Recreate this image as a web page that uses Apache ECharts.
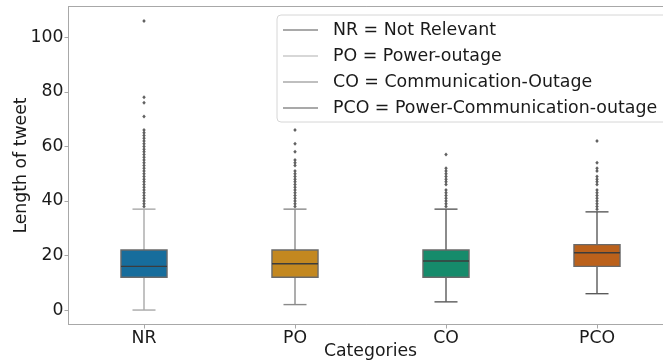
<!DOCTYPE html>
<html>
<head>
<meta charset="utf-8">
<script src="https://cdn.jsdelivr.net/npm/echarts@6/dist/echarts.min.js"></script>
<style>html,body{margin:0;padding:0;background:#fff}#c{width:663px;height:364px}</style>
</head>
<body>
<div id="c"></div>
<script>
const categories = ['NR', 'PO', 'CO', 'PCO'];
// [min whisker, Q1, median, Q3, max whisker]
const boxNR  = [0, 12, 16, 22, 37];
const boxPO  = [2, 12, 17, 22, 37];
const boxCO  = [3, 12, 18, 22, 37];
const boxPCO = [6, 16, 21, 24, 36];
const outNR  = [38,39,40,41,42,43,44,45,46,47,48,49,50,51,52,53,54,55,56,57,58,59,60,61,62,63,64,65,66,71,76,78,106];
const outPO  = [38,39,40,41,42,43,44,45,46,47,48,49,50,51,53,54,55,58,61,66];
const outCO  = [38,39,40,41,42,43,44,46,47,48,49,50,51,52,57];
const outPCO = [37,38,39,40,41,42,43,44,46,47,48,49,51,52,54,62];
const yTicks = [0, 20, 40, 60, 80, 100];
const legendLabels = ['NR = Not Relevant', 'PO = Power-outage', 'CO = Communication-Outage', 'PCO = Power-Communication-outage'];

const boxColors = ['#176d9c', '#c38820', '#168b6b', '#bb611b'];
const whiskerColors = ['#a8a8a8', '#8a8a8a', '#5a5a5a', '#5a5a5a'];
const legendLineColors = ['#555555', '#b0b0b0', '#808080', '#555555'];

const boxes = [boxNR, boxPO, boxCO, boxPCO];
const outs = [outNR, outPO, outCO, outPCO];
const boxData = boxes.map((b, i) => [i].concat(b));
const outData = [];
outs.forEach((arr, i) => arr.forEach(v => outData.push([i, v])));

const FONT = 'DejaVu Sans';
const FS = 17.3;
const SPINE = '#a8a8a8';
const chart = echarts.init(document.getElementById('c'), null, {renderer: 'canvas'});

function renderBox(params, api) {
  const i = api.value(0);
  const vmin = api.value(1), q1 = api.value(2), med = api.value(3), q3 = api.value(4), vmax = api.value(5);
  const band = api.size([1, 0])[0];
  const cx = api.coord([i, 0])[0];
  const bw = band * 0.305;
  const cw = bw * 0.5;
  const yMin = api.coord([i, vmin])[1];
  const yQ1 = api.coord([i, q1])[1];
  const yMed = api.coord([i, med])[1];
  const yQ3 = api.coord([i, q3])[1];
  const yMax = api.coord([i, vmax])[1];
  const wc = whiskerColors[i];
  const lw = 1.4;
  return {
    type: 'group',
    children: [
      {type: 'line', shape: {x1: cx, y1: yQ3, x2: cx, y2: yMax}, style: {stroke: wc, lineWidth: lw}},
      {type: 'line', shape: {x1: cx, y1: yQ1, x2: cx, y2: yMin}, style: {stroke: wc, lineWidth: lw}},
      {type: 'line', shape: {x1: cx - cw / 2, y1: yMax, x2: cx + cw / 2, y2: yMax}, style: {stroke: wc, lineWidth: lw}},
      {type: 'line', shape: {x1: cx - cw / 2, y1: yMin, x2: cx + cw / 2, y2: yMin}, style: {stroke: wc, lineWidth: lw}},
      {type: 'rect', shape: {x: cx - bw / 2, y: yQ3, width: bw, height: yQ1 - yQ3}, style: {fill: boxColors[i], stroke: '#6a6a6a', lineWidth: lw}},
      {type: 'line', shape: {x1: cx - bw / 2, y1: yMed, x2: cx + bw / 2, y2: yMed}, style: {stroke: '#3c3c3c', lineWidth: lw}}
    ]
  };
}

const legendChildren = [
  {type: 'rect', shape: {x: 277, y: 15, width: 420, height: 107, r: 4}, style: {fill: 'rgba(255,255,255,0.85)', stroke: '#d6d6d6', lineWidth: 1}}
];
const rowsY = [30, 56, 82, 108];
legendLabels.forEach((t, k) => {
  legendChildren.push({type: 'line', shape: {x1: 283, y1: rowsY[k], x2: 318, y2: rowsY[k]}, style: {stroke: legendLineColors[k], lineWidth: 1.2}});
  legendChildren.push({type: 'text', x: 333, y: rowsY[k], style: {text: t, fill: '#1a1a1a', font: '17.4px "DejaVu Sans"', verticalAlign: 'middle', align: 'left'}});
});

chart.setOption({
  animation: false,
  grid: {left: 68.5, top: 6.5, right: -9.5, bottom: 39.5, outerBoundsMode: 'none', containLabel: false, show: false},
  xAxis: [{
    type: 'category',
    data: categories,
    boundaryGap: true,
    name: 'Categories',
    nameLocation: 'middle',
    nameGap: 19,
    nameMoveOverlap: false,
    nameTextStyle: {fontFamily: FONT, fontSize: FS, color: '#1a1a1a'},
    axisLine: {onZero: false, lineStyle: {color: SPINE}},
    axisTick: {show: true, alignWithLabel: true, length: 4, lineStyle: {color: SPINE}},
    axisLabel: {fontFamily: FONT, fontSize: FS, color: '#1a1a1a', margin: 6},
    splitLine: {show: false}
  }, {
    type: 'category',
    data: categories,
    position: 'top',
    axisLine: {show: true, onZero: false, lineStyle: {color: SPINE}},
    axisTick: {show: false},
    axisLabel: {show: false},
    splitLine: {show: false}
  }],
  yAxis: {
    type: 'value',
    min: -5.3,
    max: 111.3,
    name: 'Length of tweet',
    nameLocation: 'middle',
    nameGap: 38,
    nameMoveOverlap: false,
    nameRotate: 90,
    nameTextStyle: {fontFamily: FONT, fontSize: FS, color: '#1a1a1a'},
    axisLine: {show: true, onZero: false, lineStyle: {color: SPINE}},
    axisTick: {show: true, length: 4, customValues: yTicks, lineStyle: {color: SPINE}},
    axisLabel: {fontFamily: FONT, fontSize: FS, color: '#1a1a1a', margin: 5, customValues: yTicks},
    splitLine: {show: false}
  },
  series: [
    {
      type: 'custom',
      renderItem: renderBox,
      encode: {x: 0, y: [1, 2, 3, 4, 5]},
      data: boxData,
      clip: false,
      z: 2
    },
    {
      type: 'scatter',
      data: outData,
      symbol: 'diamond',
      symbolSize: [3.5, 4],
      itemStyle: {color: '#3a3a3a'},
      z: 3
    }
  ],
  graphic: {elements: [{type: 'group', z: 100, children: legendChildren}]}
});
</script>
</body>
</html>
